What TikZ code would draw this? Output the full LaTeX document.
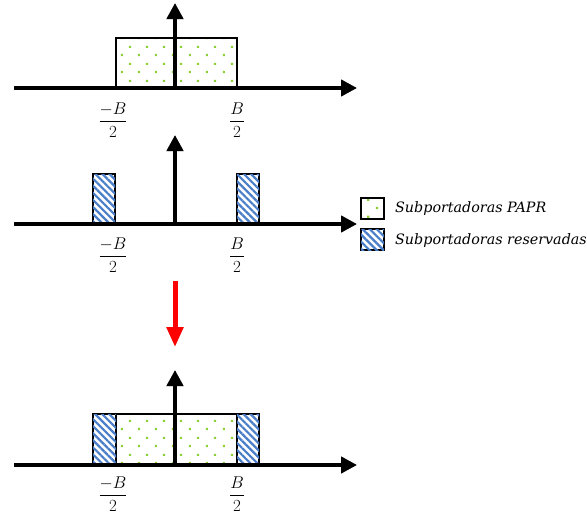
\RequirePackage{fix-cm}
\documentclass[tikz,border=0pt]{standalone}
\usepackage{fontspec}
\newfontfamily\legfont{DejaVu Serif}
\usetikzlibrary{arrows.meta,patterns,patterns.meta}
\definecolor{dotgreen}{HTML}{8CD038}
\definecolor{hatchblue}{HTML}{4A7EC8}
\pgfdeclarepatternformonly{greendots}{\pgfpointorigin}{\pgfqpoint{17pt}{17pt}}{\pgfqpoint{17pt}{17pt}}{%
  \pgfpathrectangle{\pgfqpoint{2pt}{2pt}}{\pgfqpoint{2.2pt}{2.2pt}}%
  \pgfpathrectangle{\pgfqpoint{10.5pt}{10.5pt}}{\pgfqpoint{2.2pt}{2.2pt}}%
  \pgfusepath{fill}}
\tikzset{
  axisline/.style={line width=4pt,-{Triangle[width=16pt,length=16pt]}},
  axisshadow/.style={axisline,draw=black!30,shift={(1,3)}},
  dotbox/.style={draw=black,line width=2pt,pattern=greendots,pattern color=dotgreen,inner sep=0pt,outer sep=0pt},
  hatchbox/.style={draw=black,line width=1.5pt,inner sep=0pt,outer sep=0pt,
    postaction={pattern={Lines[angle=-45,distance=5pt,line width=2.2pt]},pattern color=hatchblue}},
  lbl/.style={font=\fontsize{17}{19}\selectfont,inner sep=0pt},
  legtxt/.style={font=\legfont\fontsize{14.3}{16}\selectfont\itshape,anchor=west,inner sep=0pt},
  redarrow/.style={line width=5pt,draw=red,-{Triangle[width=16pt,length=20pt]}}
}
\begin{document}
\begin{tikzpicture}[x=1pt,y=-1pt]
\useasboundingbox (0,0) rectangle (587,517);
% ---------- Panel 1 ----------
\node[dotbox,minimum width=121pt,minimum height=50pt] (b1) at (176.5,63) {};
\coordinate (a1l) at (14,88); \coordinate (a1r) at (357,88);
\coordinate (a1o) at (175,88); \coordinate (a1t) at (175,3);
\draw[axisshadow] (a1l) -- (a1r);
\draw[axisline,draw=black!30,shift={(2,1)}] (a1o) -- (a1t);
\draw[axisline] (a1l) -- (a1r);
\draw[axisline] (a1o) -- (a1t);
\node[lbl] (l1a) at (113,120) {$\displaystyle\frac{-B}{2}$};
\node[lbl] (l1b) at (237,120) {$\displaystyle\frac{B}{2}$};
% ---------- Panel 2 ----------
\node[hatchbox,minimum width=22pt,minimum height=50pt] (h2a) at (104,199) {};
\node[hatchbox,minimum width=22pt,minimum height=50pt] (h2b) at (248,199) {};
\coordinate (a2l) at (14,224); \coordinate (a2r) at (357,224);
\coordinate (a2o) at (175,224); \coordinate (a2t) at (175,135);
\draw[axisshadow] (a2l) -- (a2r);
\draw[axisline,draw=black!30,shift={(2,1)}] (a2o) -- (a2t);
\draw[axisline] (a2l) -- (a2r);
\draw[axisline] (a2o) -- (a2t);
\node[lbl] (l2a) at (113,255) {$\displaystyle\frac{-B}{2}$};
\node[lbl] (l2b) at (237,255) {$\displaystyle\frac{B}{2}$};
% ---------- Legend ----------
\node[dotbox,minimum width=23pt,minimum height=21pt] (k1) at (372.5,208.5) {};
\node[hatchbox,minimum width=23pt,minimum height=21pt] (k2) at (372.5,239.5) {};
\node[legtxt] (t1) at (395,209) {Subportadoras PAPR};
\node[legtxt] (t2) at (395,241) {Subportadoras reservadas};
% ---------- Red arrow ----------
\coordinate (r1) at (175,281); \coordinate (r2) at (175,347);
\draw[redarrow,draw=black!30,shift={(1,2)}] (r1) -- (r2);
\draw[redarrow] (r1) -- (r2);
% ---------- Panel 3 ----------
\node[dotbox,minimum width=121pt,minimum height=51pt] (b3) at (176.5,439.5) {};
\node[hatchbox,minimum width=23pt,minimum height=51pt] (h3a) at (104.5,439.5) {};
\node[hatchbox,minimum width=22pt,minimum height=51pt] (h3b) at (248,439.5) {};
\coordinate (a3l) at (14,465); \coordinate (a3r) at (357,465);
\coordinate (a3o) at (175,465); \coordinate (a3t) at (175,370);
\draw[axisshadow] (a3l) -- (a3r);
\draw[axisline,draw=black!30,shift={(2,1)}] (a3o) -- (a3t);
\draw[axisline] (a3l) -- (a3r);
\draw[axisline] (a3o) -- (a3t);
\node[lbl] (l3a) at (113,494) {$\displaystyle\frac{-B}{2}$};
\node[lbl] (l3b) at (237,494) {$\displaystyle\frac{B}{2}$};
\end{tikzpicture}
\end{document}
